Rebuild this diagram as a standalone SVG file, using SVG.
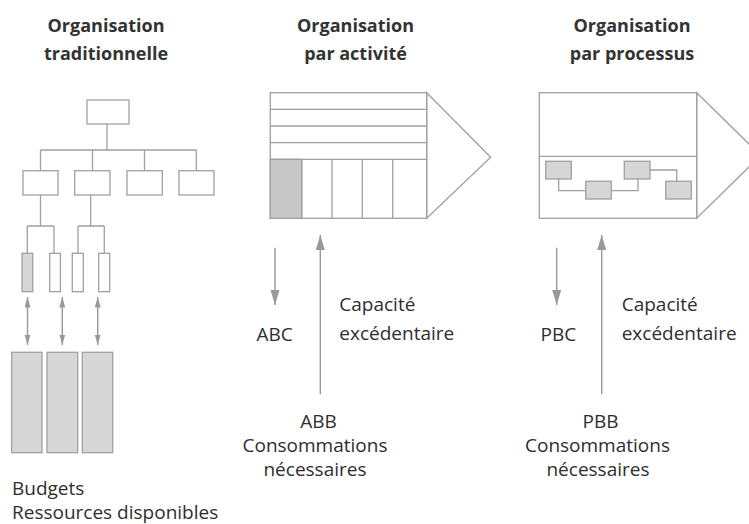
<svg xmlns="http://www.w3.org/2000/svg" width="749" height="524" viewBox="0 0 749 524">
<style>
.t{font-family:"Open Sans","Noto Sans",sans-serif;font-size:19px;fill:#2e2e2e}
.h{font-family:"Open Sans","Noto Sans",sans-serif;font-size:18px;font-weight:bold;fill:#333;text-anchor:middle}
.m{text-anchor:middle}
.b{fill:#fff;stroke:#a0a0a0;stroke-width:1.3}
.g{fill:#d6d6d6;stroke:#a0a0a0;stroke-width:1.3}
.g2{fill:#c8c8c8;stroke:#a0a0a0;stroke-width:1.3}
.l{fill:none;stroke:#a0a0a0;stroke-width:1.3}
.a{fill:none;stroke:#999;stroke-width:1.4}
</style>
<defs>
<marker id="ah" markerUnits="userSpaceOnUse" markerWidth="16" markerHeight="10" refX="15" refY="4.5" orient="auto"><path d="M0,0 L15,4.5 L0,9 z" fill="#999"/></marker>
<marker id="as" markerUnits="userSpaceOnUse" markerWidth="11" markerHeight="7" refX="10.5" refY="3" orient="auto-start-reverse"><path d="M0,0 L10.5,3 L0,6 z" fill="#999"/></marker>
</defs>

<g id="titles">
<text class="h" x="106" y="31.5">Organisation</text>
<text class="h" x="106" y="60">traditionnelle</text>
<text class="h" x="355.5" y="31.5">Organisation</text>
<text class="h" x="355.5" y="60">par activité</text>
<text class="h" x="632" y="31.5">Organisation</text>
<text class="h" x="632" y="60">par processus</text>
</g>

<g id="org-top"><rect class="b" x="87" y="100" width="42" height="24"/></g>
<g id="org-dept1"><rect class="b" x="23" y="170.7" width="35" height="24.3"/></g>
<g id="org-dept2"><rect class="b" x="74.7" y="170.7" width="35.3" height="24.3"/></g>
<g id="org-dept3"><rect class="b" x="127" y="170.7" width="35.3" height="24.3"/></g>
<g id="org-dept4"><rect class="b" x="179" y="170.7" width="35" height="24.3"/></g>
<g id="org-unit1"><rect class="g" x="22" y="253.3" width="10.7" height="38.4"/></g>
<g id="org-unit2"><rect class="b" x="49.7" y="253.3" width="10.7" height="38.4"/></g>
<g id="org-unit3"><rect class="b" x="72.3" y="253.3" width="11" height="38.4"/></g>
<g id="org-unit4"><rect class="b" x="98.7" y="253.3" width="11" height="38.4"/></g>
<g id="budget1"><rect class="g" x="11.7" y="352.3" width="30.3" height="100.4"/></g>
<g id="budget2"><rect class="g" x="47" y="352.3" width="30.7" height="100.4"/></g>
<g id="budget3"><rect class="g" x="82.3" y="352.3" width="30.4" height="100.4"/></g>

<g id="activity">
<path class="b" d="M426.7,92.7 L490.7,157.3 L426.7,218.3 Z"/>
<rect class="b" x="270.3" y="92.7" width="156.4" height="125.6"/>
<rect class="g2" x="270.3" y="159.3" width="31.4" height="59"/>
<path class="l" d="M270.3,109.3 H426.7 M270.3,126 H426.7 M270.3,142.7 H426.7 M270.3,159.3 H426.7 M301.7,159.3 V218.3 M332,159.3 V218.3 M362.3,159.3 V218.3 M392.7,159.3 V218.3"/>
</g>

<g id="process">
<path class="b" d="M696.7,92.7 L760.7,155.5 L696.7,218.3 Z"/>
<rect class="b" x="539.3" y="92.7" width="157.4" height="125.6"/>
<path class="l" d="M539.3,156.3 H696.7"/>
</g>

<g id="connectors">
<path class="l" d="M107,124 V150 M40.5,150 H196.3 M40.5,150 V170.7 M92.5,150 V170.7 M144.5,150 V170.7 M196.3,150 V170.7"/>
<path class="l" d="M40.5,195 V226 M27.3,226 H54 M27.3,226 V253.3 M54,226 V253.3"/>
<path class="l" d="M90.7,195 V226 M78,226 H104.3 M78,226 V253.3 M104.3,226 V253.3"/>
<path class="l" d="M558.7,179 V190.7 H585.7 M611.3,190.7 H638 V179 M650,170 H676.7 V181.3"/>
<line class="a" x1="27.5" y1="297" x2="27.5" y2="345" marker-start="url(#as)" marker-end="url(#as)"/>
<line class="a" x1="62.3" y1="297" x2="62.3" y2="345" marker-start="url(#as)" marker-end="url(#as)"/>
<line class="a" x1="97.7" y1="297" x2="97.7" y2="345" marker-start="url(#as)" marker-end="url(#as)"/>
<line class="a" x1="275" y1="247.7" x2="275" y2="305" marker-end="url(#ah)"/>
<line class="a" x1="320.3" y1="394.3" x2="320.3" y2="235" marker-end="url(#ah)"/>
<line class="a" x1="556.7" y1="247.7" x2="556.7" y2="305" marker-end="url(#ah)"/>
<line class="a" x1="601.7" y1="394.3" x2="601.7" y2="235" marker-end="url(#ah)"/>
</g>

<g id="proc-step1"><rect class="g" x="545.7" y="161.3" width="25.6" height="17.7"/></g>
<g id="proc-step2"><rect class="g" x="585.7" y="181.3" width="25.6" height="17.7"/></g>
<g id="proc-step3"><rect class="g" x="624.3" y="161.3" width="25.7" height="17.7"/></g>
<g id="proc-step4"><rect class="g" x="665.7" y="181.3" width="25.6" height="17.7"/></g>

<g id="labels">
<text class="t" x="12" y="495">Budgets</text>
<text class="t" x="12" y="518.5">Ressources disponibles</text>
<text class="t" x="256.5" y="340.5">ABC</text>
<text class="t" x="339.3" y="311">Capacité</text>
<text class="t" x="339.3" y="339.5">excédentaire</text>
<text class="t m" x="318.5" y="427.5">ABB</text>
<text class="t m" x="315" y="451.5">Consommations</text>
<text class="t m" x="315" y="475.5">nécessaires</text>
<text class="t" x="540.5" y="340.5">PBC</text>
<text class="t" x="621.7" y="311">Capacité</text>
<text class="t" x="621.7" y="339.5">excédentaire</text>
<text class="t m" x="600.5" y="427.5">PBB</text>
<text class="t m" x="597.5" y="451.5">Consommations</text>
<text class="t m" x="598" y="475.5">nécessaires</text>
</g>
</svg>
